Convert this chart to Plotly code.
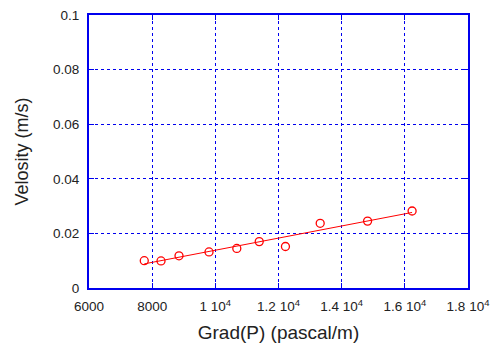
import numpy as np
import plotly.graph_objects as go

# Measured pressure gradient (Pa/m) and flow velocity (m/s)
grad_p = [7750, 8280, 8850, 9800, 10680, 11390, 12220, 13320, 14820, 16230]
velocity = [0.0100, 0.0099, 0.0118, 0.0132, 0.0145, 0.0170, 0.0152, 0.0237, 0.0245, 0.0282]

x_ticks = [6000, 8000, 10000, 12000, 14000, 16000, 18000]
x_tick_text = ["6000", "8000", "1 10<sup>4</sup>", "1.2 10<sup>4</sup>",
               "1.4 10<sup>4</sup>", "1.6 10<sup>4</sup>", "1.8 10<sup>4</sup>"]
y_ticks = [0, 0.02, 0.04, 0.06, 0.08, 0.1]
y_tick_text = ["0", "0.02", "0.04", "0.06", "0.08", "0.1"]

# Least-squares linear fit over the measured range
slope, intercept = np.polyfit(grad_p, velocity, 1)
fit_x = np.array([min(grad_p), max(grad_p)])
fit_y = slope * fit_x + intercept

FONT = "Liberation Sans, Arial, sans-serif"

fig = go.Figure()
fig.add_trace(go.Scatter(x=fit_x, y=fit_y, mode="lines",
                         line=dict(color="red", width=1), showlegend=False))
fig.add_trace(go.Scatter(x=grad_p, y=velocity, mode="markers",
                         marker=dict(symbol="circle-open", size=8, color="red",
                                     line=dict(width=1.3, color="red")),
                         showlegend=False))

axis_common = dict(
    showgrid=True, gridcolor="#0000ee", griddash="dot", gridwidth=1,
    showline=True, linecolor="#0000ee", linewidth=2, mirror="ticks",
    ticks="inside", tickcolor="#0000ee", ticklen=5,
    tickfont=dict(family=FONT, size=13.5, color="#222"),
    zeroline=False, automargin=False,
)

fig.update_layout(
    width=497, height=345,
    margin=dict(l=89, r=29, t=15, b=57),
    paper_bgcolor="white", plot_bgcolor="white",
    xaxis=dict(range=[6000, 18000], tickvals=x_ticks, ticktext=x_tick_text,
               ticklabelstandoff=5,
               title=dict(text="Grad(P) (pascal/m)", standoff=12,
                          font=dict(family=FONT, size=19, color="#222")),
               **axis_common),
    yaxis=dict(range=[0, 0.1], tickvals=y_ticks, ticktext=y_tick_text,
               ticklabelstandoff=5,
               title=dict(text="Velosity (m/s)", standoff=20,
                          font=dict(family=FONT, size=18, color="#222")),
               **axis_common),
)

fig.write_html("out.html")
